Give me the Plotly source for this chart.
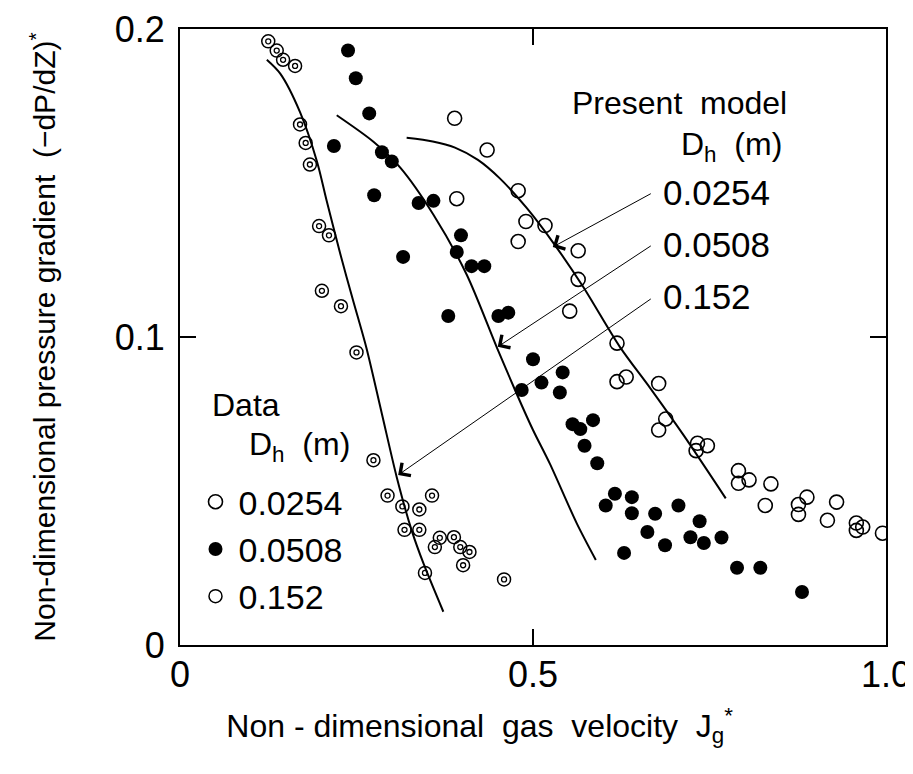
import plotly.graph_objects as go

# ---------------- data ----------------
# Data points, Dh = 0.0254 m (open circles)
jg_0254 = [0.389, 0.435, 0.479, 0.392, 0.490, 0.517, 0.479, 0.564, 0.564, 0.552, 0.619,
           0.619, 0.632, 0.678, 0.688, 0.678, 0.733, 0.747, 0.731, 0.791, 0.806, 0.791,
           0.837, 0.829, 0.888, 0.876, 0.876, 0.930, 0.917, 0.958, 0.967, 0.958, 0.995]
dp_0254 = [0.171, 0.1607, 0.1475, 0.1449, 0.1375, 0.1362, 0.131, 0.128, 0.1187, 0.1084, 0.098,
           0.0855, 0.087, 0.0849, 0.0734, 0.0698, 0.0655, 0.0647, 0.0631, 0.0566, 0.0536, 0.0525,
           0.0523, 0.0453, 0.048, 0.0456, 0.0424, 0.0464, 0.0405, 0.0396, 0.0383, 0.0372, 0.0363]

# Data points, Dh = 0.0508 m (filled circles)
jg_0508 = [0.238, 0.249, 0.268, 0.218, 0.286, 0.300, 0.275, 0.338, 0.359, 0.398, 0.392,
           0.413, 0.431, 0.316, 0.380, 0.451, 0.465, 0.500, 0.484, 0.512, 0.542, 0.538,
           0.556, 0.585, 0.567, 0.573, 0.591, 0.616, 0.603, 0.640, 0.640, 0.673, 0.706,
           0.662, 0.687, 0.629, 0.736, 0.723, 0.742, 0.767, 0.789, 0.822, 0.881]
dp_0508 = [0.193, 0.184, 0.1726, 0.162, 0.160, 0.157, 0.146, 0.1435, 0.1442, 0.133, 0.1276,
           0.123, 0.123, 0.126, 0.1068, 0.1068, 0.1079, 0.0928, 0.0828, 0.0852, 0.0885, 0.082,
           0.0717, 0.073, 0.0701, 0.0647, 0.059, 0.0491, 0.0453, 0.048, 0.0428, 0.0426, 0.0453,
           0.0367, 0.0324, 0.0299, 0.0402, 0.035, 0.0331, 0.0349, 0.0251, 0.0251, 0.0172]

# Data points, Dh = 0.152 m (double circles)
jg_152 = [0.125, 0.137, 0.146, 0.163, 0.170, 0.178, 0.184, 0.197, 0.211, 0.201, 0.228,
          0.250, 0.274, 0.294, 0.315, 0.339, 0.357, 0.318, 0.339, 0.368, 0.361, 0.388,
          0.397, 0.410, 0.401, 0.347, 0.459]
dp_152 = [0.196, 0.193, 0.190, 0.188, 0.169, 0.163, 0.156, 0.136, 0.133, 0.115, 0.110,
          0.095, 0.060, 0.0485, 0.045, 0.044, 0.0485, 0.0374, 0.0374, 0.0348, 0.0318, 0.035,
          0.0318, 0.0302, 0.0259, 0.0234, 0.0213]

# Present model curves
model_jg_0254 = [0.321, 0.358, 0.3895, 0.422, 0.453, 0.491, 0.529, 0.571, 0.623, 0.666, 0.713, 0.773]
model_dp_0254 = [0.1647, 0.1635, 0.1615, 0.1575, 0.1515, 0.1419, 0.1305, 0.1163, 0.0968, 0.0834, 0.0682, 0.0476]
model_jg_0508 = [0.222, 0.274, 0.312, 0.359, 0.406, 0.449, 0.477, 0.500, 0.524, 0.562, 0.589]
model_dp_0508 = [0.172, 0.1634, 0.155, 0.1397, 0.1203, 0.0965, 0.0815, 0.0698, 0.0588, 0.0395, 0.0276]
model_jg_152 = [0.123, 0.142, 0.170, 0.194, 0.208, 0.227, 0.245, 0.264, 0.286, 0.307, 0.328, 0.345, 0.373]
model_dp_152 = [0.190, 0.1855, 0.173, 0.157, 0.144, 0.127, 0.1120, 0.0965, 0.075, 0.0545, 0.0373, 0.0264, 0.0108]

x_tickvals = [0, 0.5, 1.0]
x_ticktext = ["0", "0.5", "1.0"]
y_tickvals = [0, 0.1, 0.2]
y_ticktext = ["0", "0.1", "0.2"]

model_labels = ["0.0254", "0.0508", "0.152"]
legend_labels = ["0.0254", "0.0508", "0.152"]

# ---------------- figure ----------------
FONT = "Liberation Sans, Arial, sans-serif"
BLACK = "black"

fig = go.Figure()

for xs, ys in [(model_jg_0254, model_dp_0254), (model_jg_0508, model_dp_0508), (model_jg_152, model_dp_152)]:
    fig.add_trace(go.Scatter(x=xs, y=ys, mode="lines",
                             line=dict(color=BLACK, width=2, shape="spline", smoothing=0.8),
                             showlegend=False, hoverinfo="skip"))

fig.add_trace(go.Scatter(x=jg_0254, y=dp_0254, mode="markers", name=legend_labels[0],
                         marker=dict(symbol="circle-open", size=14, color=BLACK, line=dict(width=1.6, color=BLACK))))
fig.add_trace(go.Scatter(x=jg_0508, y=dp_0508, mode="markers", name=legend_labels[1],
                         marker=dict(symbol="circle", size=14, color=BLACK)))
fig.add_trace(go.Scatter(x=jg_152, y=dp_152, mode="markers", name=legend_labels[2],
                         marker=dict(symbol="circle-open", size=13, color=BLACK, line=dict(width=1.5, color=BLACK))))
fig.add_trace(go.Scatter(x=jg_152, y=dp_152, mode="markers", showlegend=False, hoverinfo="skip",
                         marker=dict(symbol="circle-open", size=5, color=BLACK, line=dict(width=1.3, color=BLACK))))

annotations = []
annotations.append(dict(x=0.552, y=0.176, xref="x", yref="y", text="Present\u00a0\u00a0model",
                        showarrow=False, xanchor="left", yanchor="middle",
                        font=dict(family=FONT, size=32, color=BLACK)))
annotations.append(dict(x=0.707, y=0.162, xref="x", yref="y", text="D<sub>h</sub>\u00a0 (m)",
                        showarrow=False, xanchor="left", yanchor="middle",
                        font=dict(family=FONT, size=32, color=BLACK)))
label_y = [0.147, 0.130, 0.1133]
arrow_tail_y = [0.1468, 0.1299, 0.1127]
arrow_head = [(0.528, 0.1292), (0.450, 0.0968), (0.309, 0.0552)]
for lab, ly, ty, (hx, hy) in zip(model_labels, label_y, arrow_tail_y, arrow_head):
    annotations.append(dict(x=0.681, y=ly, xref="x", yref="y", text=lab, showarrow=False,
                            xanchor="left", yanchor="middle", font=dict(family=FONT, size=35, color=BLACK)))
    annotations.append(dict(x=hx, y=hy, ax=0.669, ay=ty, xref="x", yref="y", axref="x", ayref="y",
                            text="", showarrow=True, arrowhead=4, arrowsize=3, arrowwidth=1,
                            arrowcolor=BLACK, standoff=0, startstandoff=0))
# legend heading
annotations.append(dict(x=0.0425, y=0.0779, xref="x", yref="y", text="Data", showarrow=False,
                        xanchor="left", yanchor="middle", font=dict(family=FONT, size=32, color=BLACK)))
annotations.append(dict(x=0.095, y=0.0643, xref="x", yref="y", text="D<sub>h</sub>\u00a0 (m)",
                        showarrow=False, xanchor="left", yanchor="middle",
                        font=dict(family=FONT, size=32, color=BLACK)))

# the page body adds an 8 px margin, so the figure is 8 px smaller and shifted
fig.update_layout(
    width=905, height=766,
    margin=dict(l=172, r=27, t=21, b=129),
    paper_bgcolor="white", plot_bgcolor="white",
    font=dict(family=FONT, color=BLACK),
    annotations=annotations,
    showlegend=True,
    legend=dict(
        x=0.0177, y=0.279, xanchor="left", yanchor="top",
        bgcolor="rgba(0,0,0,0)", borderwidth=0,
        font=dict(family=FONT, size=34, color=BLACK),
        itemsizing="trace", tracegroupgap=0, itemwidth=36,
    ),
    xaxis=dict(
        range=[0, 1.0], tickvals=x_tickvals, ticktext=x_ticktext, automargin=False,
        showgrid=False, zeroline=False, showline=True, linecolor=BLACK, linewidth=2,
        mirror="ticks", ticks="inside", ticklen=16, tickwidth=1.5, tickcolor=BLACK,
        tickfont=dict(family=FONT, size=36, color=BLACK), ticklabelstandoff=-3,
        title=dict(text="Non\u00a0-\u00a0dimensional\u00a0\u00a0gas\u00a0\u00a0velocity\u00a0\u00a0J<sub>g</sub><sup>*</sup>"
                        + "<span style='color:rgba(0,0,0,0)'>" + "\u00a0" * 11 + ".</span>",
                   font=dict(family=FONT, size=32, color=BLACK), standoff=20),
    ),
    yaxis=dict(
        range=[0, 0.2], tickvals=y_tickvals, ticktext=y_ticktext, automargin=False,
        showgrid=False, zeroline=False, showline=True, linecolor=BLACK, linewidth=2,
        mirror="ticks", ticks="inside", ticklen=16, tickwidth=1.5, tickcolor=BLACK,
        tickfont=dict(family=FONT, size=36, color=BLACK), ticklabelstandoff=6,
        title=dict(text="Non-dimensional pressure gradient\u00a0\u00a0(\u2212dP/dZ)<sup>*</sup>",
                   font=dict(family=FONT, size=30, color=BLACK), standoff=50),
    ),
)

fig.write_html("out.html")
